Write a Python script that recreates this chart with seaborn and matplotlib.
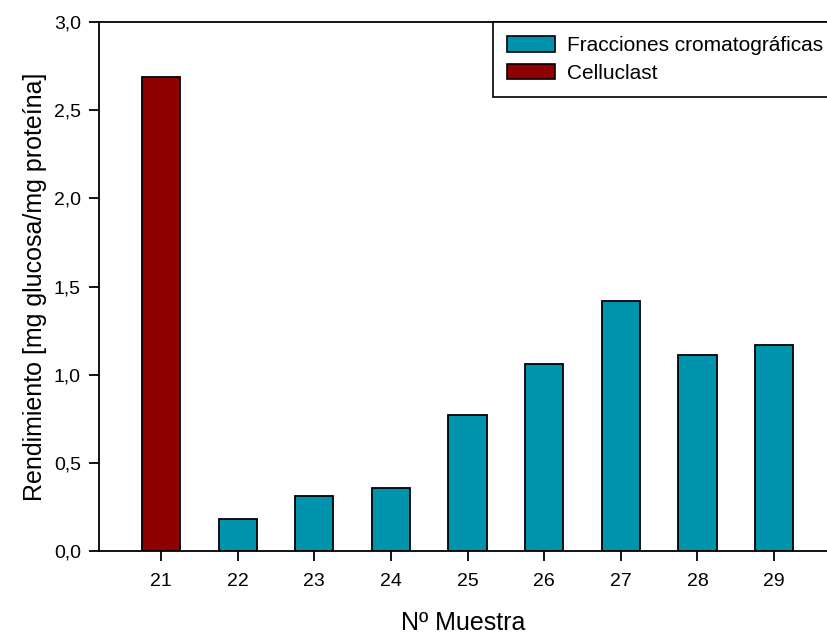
import matplotlib
matplotlib.use("Agg")
import matplotlib.pyplot as plt
import seaborn as sns
import pandas as pd
from matplotlib.patches import Patch
from matplotlib.ticker import FuncFormatter, MultipleLocator

muestras = ["21", "22", "23", "24", "25", "26", "27", "28", "29"]
rendimiento = [2.69, 0.18, 0.31, 0.357, 0.77, 1.06, 1.418, 1.11, 1.168]
tipo = ["Celluclast"] + ["Fracciones cromatográficas"] * 8
serie_nombres = ["Fracciones cromatográficas", "Celluclast"]
serie_colores = ["#0093AE", "#900000"]

df = pd.DataFrame({"Muestra": muestras, "Rendimiento": rendimiento, "Tipo": tipo})

sns.set_style("ticks")
plt.rcParams["font.family"] = ["Liberation Sans", "DejaVu Sans"]
plt.rcParams["text.color"] = "black"
plt.rcParams["axes.labelcolor"] = "black"

fig = plt.figure(figsize=(8.27, 6.35), dpi=100)
ax = fig.add_axes([99 / 827, 84 / 635, 1 - 99 / 827, 529 / 635])

palette = dict(zip(serie_nombres, serie_colores))
sns.barplot(data=df, x="Muestra", y="Rendimiento", hue="Tipo", palette=palette,
            dodge=False, width=0.5, edgecolor="black", linewidth=1.3,
            saturation=1, ax=ax, legend=False)

ax.set_xlim(-0.81, 8.69)
ax.set_ylim(0, 3.0)
ax.yaxis.set_major_locator(MultipleLocator(0.5))
ax.yaxis.set_major_formatter(FuncFormatter(lambda v, p: f"{v:.1f}".replace(".", ",")))

for s in ["left", "bottom", "top"]:
    ax.spines[s].set_visible(True)
    ax.spines[s].set_linewidth(1.3)
    ax.spines[s].set_color("black")
ax.spines["right"].set_visible(False)

ax.tick_params(axis="both", direction="out", length=7, width=1.3, colors="black",
               labelcolor="black", labelsize=14, pad=6)
ax.tick_params(axis="x", pad=9)

ax.set_xlabel("Nº Muestra", fontsize=18, labelpad=15, color="black")
ax.set_ylabel("Rendimiento [mg glucosa/mg proteína]", fontsize=18, labelpad=5, color="black")

handles = [Patch(facecolor=c, edgecolor="black", linewidth=1.2) for c in serie_colores]
leg = ax.legend(handles, serie_nombres, loc="upper left",
                bbox_to_anchor=(0.541, 1.0, 0.52, 0.0), mode="expand",
                borderaxespad=0, fontsize=15, frameon=True, fancybox=False,
                handlelength=2.3, handleheight=0.75, handletextpad=0.6,
                borderpad=0.68, labelspacing=0.42)
leg.get_frame().set_edgecolor("black")
leg.get_frame().set_linewidth(1.2)
leg.get_frame().set_alpha(1)
for t in leg.get_texts():
    t.set_color("black")
leg.set_clip_on(False)

fig.savefig("out.png", dpi=100)
